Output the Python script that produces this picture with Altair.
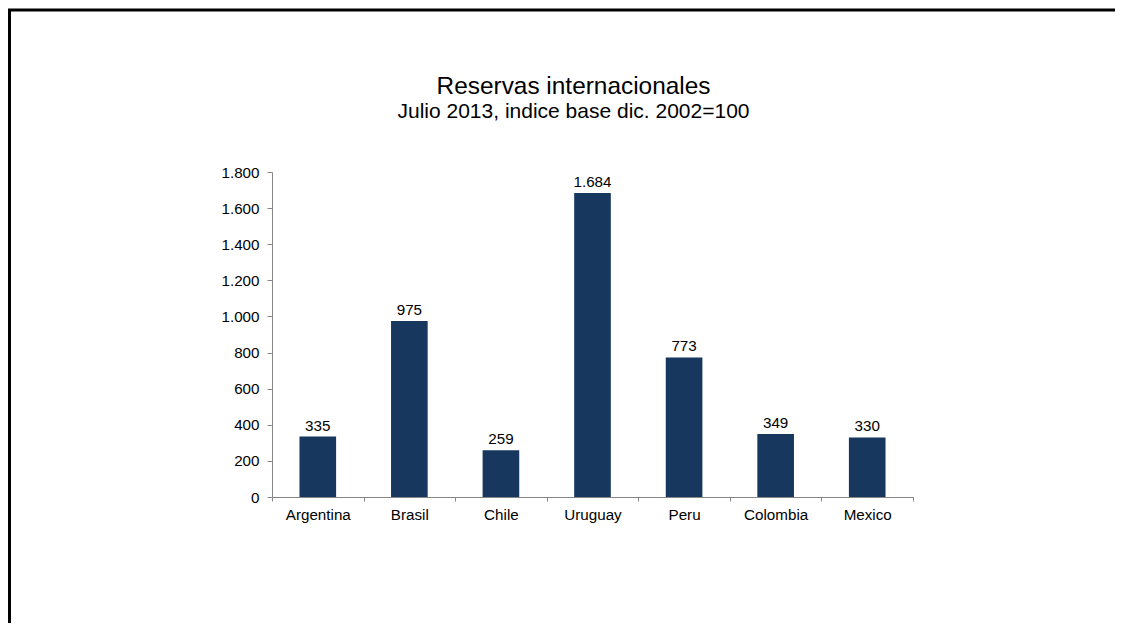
import altair as alt
import pandas as pd

countries = ["Argentina", "Brasil", "Chile", "Uruguay", "Peru", "Colombia", "Mexico"]
values = [335, 975, 259, 1684, 773, 349, 330]
y_ticks = [0, 200, 400, 600, 800, 1000, 1200, 1400, 1600, 1800]

df = pd.DataFrame({"pais": countries, "valor": values})

FONT = "Liberation Sans"
BAR = "#17375E"
AXIS_GRAY = "#868686"
LBL = 15.2

x_enc = alt.X(
    "pais:N",
    sort=countries,
    title=None,
    scale=alt.Scale(paddingInner=0, paddingOuter=0),
    axis=alt.Axis(
        labelAngle=0,
        labelFont=FONT,
        labelFontSize=LBL,
        labelColor="#000000",
        labelPadding=6,
        domainColor=AXIS_GRAY,
        tickColor=AXIS_GRAY,
        tickSize=4,
        tickBand="extent",
        grid=False,
    ),
)

y_enc = alt.Y(
    "valor:Q",
    title=None,
    scale=alt.Scale(domain=[0, 1800], nice=False),
    axis=alt.Axis(
        values=y_ticks,
        tickCount=10,
        labelExpr="replace(format(datum.value, ','), ',', '.')",
        labelFont=FONT,
        labelFontSize=LBL,
        labelColor="#000000",
        labelPadding=8,
        labelOverlap=False,
        domainColor=AXIS_GRAY,
        tickColor=AXIS_GRAY,
        tickSize=5,
        grid=False,
    ),
)

base = alt.Chart(df).encode(x=x_enc, y=y_enc)

bars = base.mark_bar(color=BAR, width=alt.RelativeBandSize(0.4))

labels = base.transform_calculate(
    etiqueta="replace(format(datum.valor, ','), ',', '.')"
).mark_text(font=FONT, fontSize=LBL, color="#000000", baseline="alphabetic", dy=-6).encode(
    text="etiqueta:N",
)

frame = alt.Chart(pd.DataFrame({"k": [0]})).mark_rect(
    fill=None, fillOpacity=0, stroke="#000000", strokeWidth=3
).encode(
    x=alt.value(-262.5),
    x2=alt.value(1000),
    y=alt.value(-162),
    y2=alt.value(500),
)

chart = alt.layer(frame, bars, labels).properties(
    width=641,
    height=325,
    title=alt.Title(
        text="Reservas internacionales",
        subtitle="Julio 2013, indice base dic. 2002=100",
        font=FONT,
        fontSize=24.4,
        fontWeight="normal",
        color="#000000",
        subtitleFont=FONT,
        subtitleFontSize=21,
        subtitleColor="#000000",
        subtitlePadding=1,
        anchor="middle",
        frame="group",
        dx=-19,
        offset=-114,
    ),
    autosize=alt.AutoSizeParams(type="none"),
    padding={"left": 264, "top": 164, "right": 202, "bottom": 126},
    background="#ffffff",
).configure_view(strokeWidth=0, stroke=None)

chart.save("out.html", embed_options={"renderer": "svg", "actions": False})
